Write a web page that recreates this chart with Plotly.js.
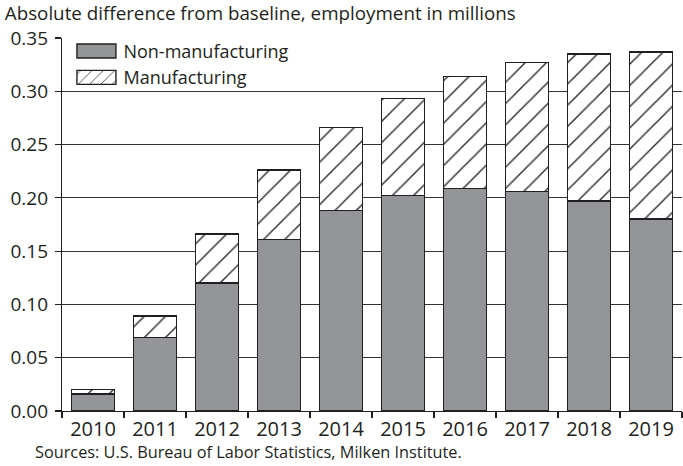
<!DOCTYPE html>
<html>
<head>
<meta charset="utf-8">
<script src="https://cdn.plot.ly/plotly-3.0.1.min.js"></script>
<style>html,body{margin:0;padding:0;background:#fff;}#chart{width:683px;height:466px;}</style>
</head>
<body>
<div id="chart"></div>
<script>
var years = ['2010','2011','2012','2013','2014','2015','2016','2017','2018','2019'];
var nonManufacturing = [0.016, 0.069, 0.120, 0.161, 0.188, 0.202, 0.209, 0.206, 0.197, 0.180];
var totalDifference = [0.020, 0.089, 0.166, 0.226, 0.266, 0.293, 0.314, 0.327, 0.335, 0.337];
var manufacturing = totalDifference.map(function(t, i){ return +(t - nonManufacturing[i]).toFixed(3); });
var yTicks = [0, 0.05, 0.10, 0.15, 0.20, 0.25, 0.30, 0.35];

var FONT = 'Open Sans, Lato, sans-serif';
var INK = '#231f20';

var traces = [
  {
    type: 'bar', name: 'Non-manufacturing', x: years, y: nonManufacturing,
    marker: {color: '#939598', line: {color: INK, width: 1.4}},
    hoverinfo: 'x+y'
  },
  {
    type: 'bar', name: 'Manufacturing', x: years, y: manufacturing,
    marker: {color: '#ffffff', line: {color: INK, width: 1.4},
      pattern: {shape: '/', size: 15, solidity: 0.1, fgcolor: '#333333', bgcolor: '#ffffff', fillmode: 'replace'}},
    hoverinfo: 'x+y'
  }
];

var layout = {
  width: 683, height: 466,
  margin: {l: 62, r: 1, t: 38, b: 55, pad: 0},
  paper_bgcolor: '#ffffff', plot_bgcolor: '#ffffff',
  barmode: 'stack', bargap: 0.3,
  font: {family: FONT, color: INK, size: 20},
  showlegend: true,
  title: {
    text: 'Absolute difference from baseline, employment in millions',
    xref: 'container', yref: 'container', x: 0.007, xanchor: 'left', y: 1 - 13/466, yanchor: 'middle',
    font: {family: FONT, size: 18.8, color: INK}
  },
  legend: {
    x: 0.012, xanchor: 'left', y: 1.014, yanchor: 'top',
    bgcolor: 'rgba(0,0,0,0)', borderwidth: 0,
    traceorder: 'normal', itemwidth: 44,
    font: {family: FONT, size: 18, color: INK}, tracegroupgap: 0
  },
  xaxis: {
    type: 'category', showgrid: false, showline: true, linecolor: INK, linewidth: 1.2,
    ticks: 'outside', tickson: 'boundaries', ticklen: 6, tickcolor: INK, tickwidth: 1.2,
    tickfont: {family: FONT, size: 20, color: INK}, fixedrange: true
  },
  yaxis: {
    range: [0, 0.35], tickvals: yTicks, tickformat: '.2f',
    showgrid: true, gridcolor: '#333333', gridwidth: 1, zeroline: false,
    showline: true, linecolor: INK, linewidth: 1.2,
    ticks: 'outside', ticklen: 6, tickcolor: INK, tickwidth: 1.2, ticklabelstandoff: 3,
    tickfont: {family: FONT, size: 19, color: INK}, fixedrange: true
  },
  annotations: [{
    text: 'Sources: U.S. Bureau of Labor Statistics, Milken Institute.',
    xref: 'paper', yref: 'paper', x: -29/620, xanchor: 'left', y: -41/372, yanchor: 'middle',
    showarrow: false, font: {family: FONT, size: 16.3, color: INK}
  }]
};

function widenLegendSymbols(){
  var paths = document.querySelectorAll('#chart .legend .legendpoints path');
  paths.forEach(function(p){ p.setAttribute('d', 'M19.5,7H-19.5V-7H19.5Z'); });
}

Plotly.newPlot('chart', traces, layout, {displayModeBar: false, staticPlot: true}).then(function(gd){
  widenLegendSymbols();
  gd.on('plotly_afterplot', widenLegendSymbols);
});
</script>
</body>
</html>
